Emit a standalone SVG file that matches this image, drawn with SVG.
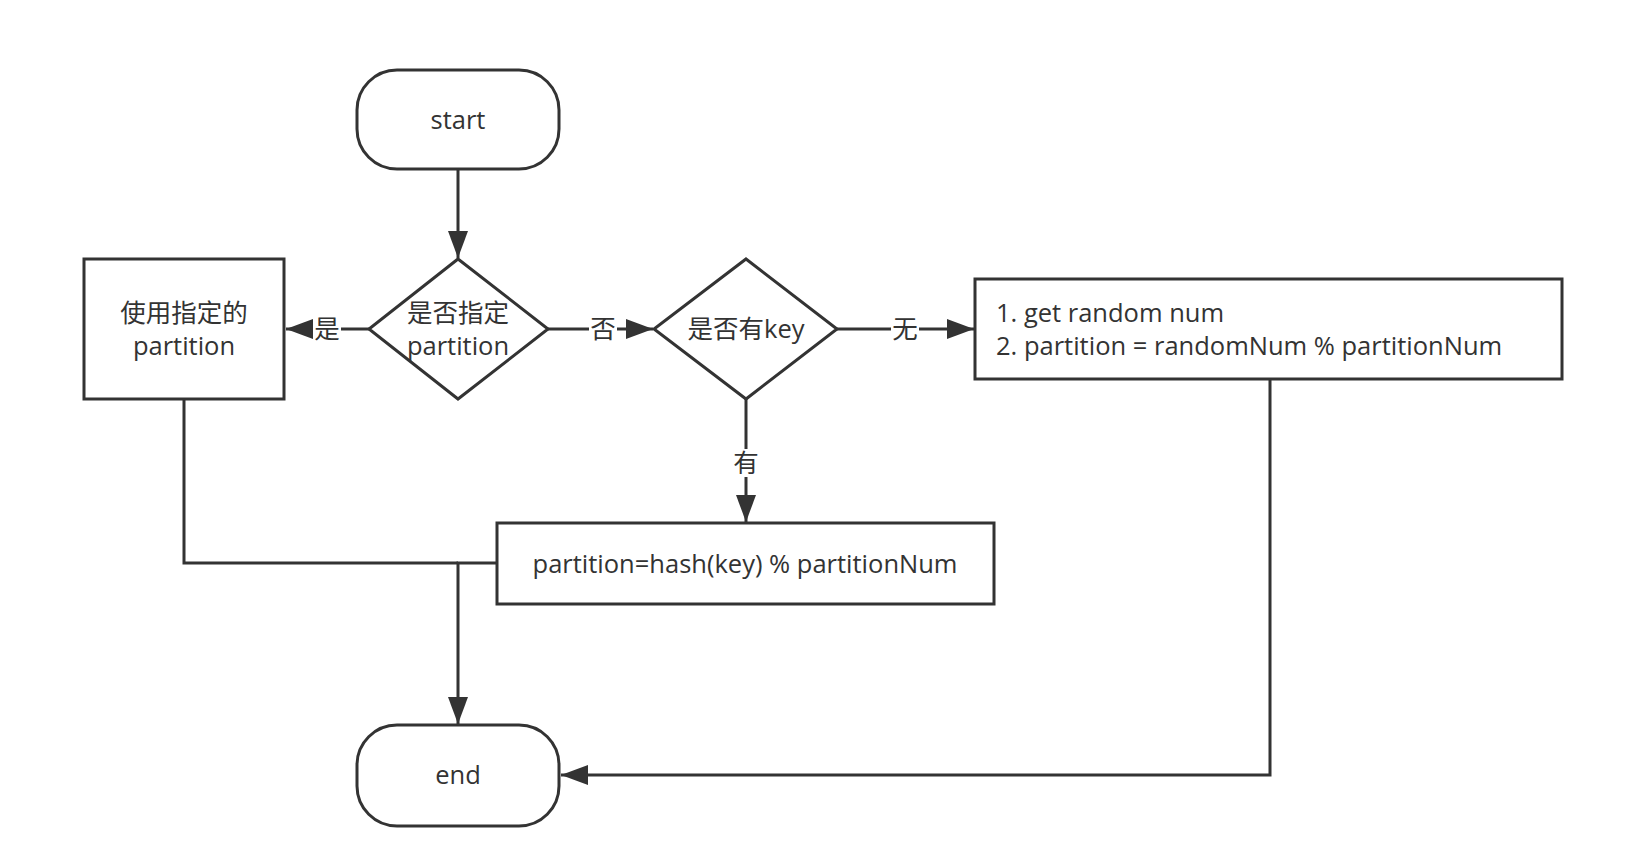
<svg xmlns="http://www.w3.org/2000/svg" width="1638" height="860" viewBox="0 0 1638 860">
<style>
.shape{fill:#fff;stroke:#333;stroke-width:3}
.t{font-family:"Open Sans","Noto Sans CJK SC",sans-serif;font-size:25.5px;fill:#333}
.c{text-anchor:middle}
.edge{fill:none;stroke:#333;stroke-width:3}
.lbl{fill:#fff}
</style>
<defs>
<marker id="arr" markerUnits="userSpaceOnUse" markerWidth="28" markerHeight="22" refX="27" refY="11" orient="auto">
<path d="M0,1 L27,11 L0,21 Z" fill="#333"/>
</marker>
</defs>
<rect width="1638" height="860" fill="#fff"/>
<g id="connectors">
<path class="edge" d="M458,169 L458,258" marker-end="url(#arr)"/>
<path class="edge" d="M369,329 L286,329" marker-end="url(#arr)"/>
<path class="edge" d="M548,329 L653,329" marker-end="url(#arr)"/>
<path class="edge" d="M837,329 L974,329" marker-end="url(#arr)"/>
<path class="edge" d="M746,399 L746,522" marker-end="url(#arr)"/>
<path class="edge" d="M184,399 L184,563 L458,563"/>
<path class="edge" d="M497,563 L458,563 L458,724" marker-end="url(#arr)"/>
<path class="edge" d="M1270,379 L1270,775 L561,775" marker-end="url(#arr)"/>
<rect class="lbl" x="313" y="315" width="28" height="28"/>
<text class="t c" x="327" y="338">是</text>
<rect class="lbl" x="589" y="315" width="28" height="28"/>
<text class="t c" x="603" y="338">否</text>
<rect class="lbl" x="891" y="315" width="28" height="28"/>
<text class="t c" x="905" y="338">无</text>
<rect class="lbl" x="732" y="449" width="28" height="28"/>
<text class="t c" x="746" y="472">有</text>
</g>
<g id="start">
<rect class="shape" x="357" y="70" width="202" height="99" rx="40" ry="40"/>
<text class="t c" x="458" y="129">start</text>
</g>
<g id="decision1">
<polygon class="shape" points="458,259 548,329 458,399 369,329"/>
<text class="t c" x="458" y="322">是否指定</text>
<text class="t c" x="458" y="355">partition</text>
</g>
<g id="useSpecified">
<rect class="shape" x="84" y="259" width="200" height="140"/>
<text class="t c" x="184" y="322">使用指定的</text>
<text class="t c" x="184" y="355">partition</text>
</g>
<g id="decision2">
<polygon class="shape" points="746,259 837,329 746,399 654,329"/>
<text class="t c" x="746" y="338">是否有key</text>
</g>
<g id="random">
<rect class="shape" x="975" y="279" width="587" height="100"/>
<text class="t" x="996" y="322">1. get random num</text>
<text class="t" x="996" y="355">2. partition = randomNum % partitionNum</text>
</g>
<g id="hash">
<rect class="shape" x="497" y="523" width="497" height="81"/>
<text class="t c" x="745" y="573">partition=hash(key) % partitionNum</text>
</g>
<g id="end">
<rect class="shape" x="357" y="725" width="202" height="101" rx="40" ry="40"/>
<text class="t c" x="458" y="784">end</text>
</g>
</svg>
